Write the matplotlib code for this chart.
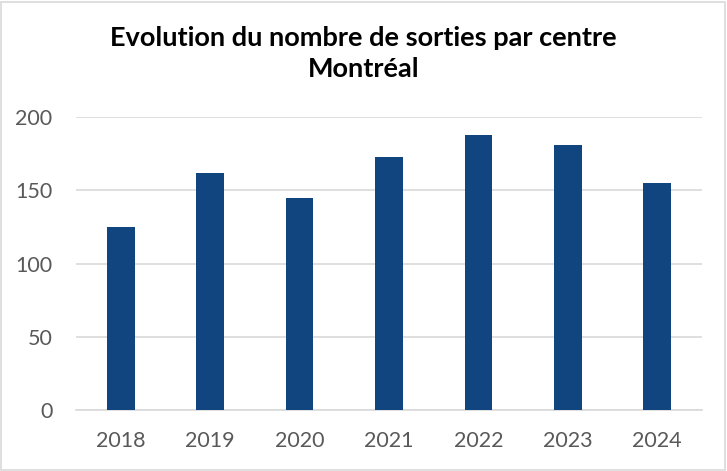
import matplotlib.pyplot as plt

years = ['2018', '2019', '2020', '2021', '2022', '2023', '2024']
sorties = [125, 162, 145, 173, 188, 181, 155]
yticks = [0, 50, 100, 150, 200]

plt.rcParams['font.family'] = ['Lato', 'DejaVu Sans']

fig = plt.figure(figsize=(7.27, 4.71), dpi=100)
ax = fig.add_axes([0.1045, 0.1295, 0.861, 0.622])

ax.bar(range(len(years)), sorties, width=0.31, color='#10457f', zorder=3)

ax.set_xlim(-0.5, len(years) - 0.5)
ax.set_ylim(0, 200)
ax.set_xticks(range(len(years)))
ax.set_xticklabels(years)
ax.set_yticks(yticks)
ax.tick_params(axis='both', length=0, colors='#595959', labelsize=15.5)
ax.tick_params(axis='x', pad=15)
ax.tick_params(axis='y', pad=17)
ax.grid(axis='y', color='#d9d9d9', linewidth=1.2, zorder=0)
for side in ['top', 'right', 'left']:
    ax.spines[side].set_visible(False)
ax.spines['bottom'].set_color('#d9d9d9')
ax.spines['bottom'].set_linewidth(1.2)

fig.text(0.5, 0.887, 'Evolution du nombre de sorties par centre\nMontréal',
         ha='center', va='center', fontsize=19.5, fontweight='bold',
         color='black', linespacing=1.35)

# cadre gris autour du graphique
fig.patches.append(plt.Rectangle((0.002, 0.003), 0.995, 0.993, transform=fig.transFigure,
                                 fill=False, edgecolor='#d9d9d9', linewidth=1.2))

fig.savefig('out.png', dpi=100)
